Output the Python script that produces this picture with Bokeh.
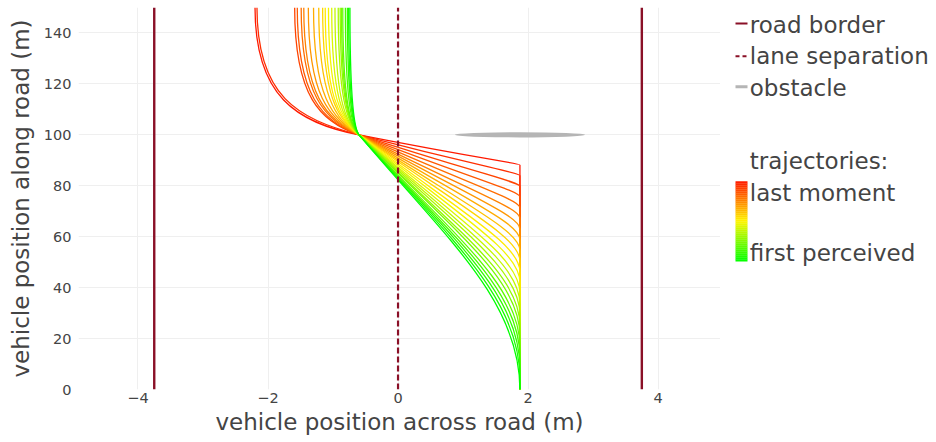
from bokeh.plotting import figure
from bokeh.models import Range1d, FixedTicker, ColumnDataSource, CustomJSTickFormatter
from bokeh.layouts import row
from bokeh.embed import file_html
from bokeh.resources import INLINE
from bokeh.core.properties import value

# ---------------- data ----------------
lane_center = 1.875          # vehicle starts in the centre of the right lane
road_borders = [-3.75, 3.75]
lane_separation = [0.0]
cross_x = -0.6               # common point every trajectory passes
cross_y = 100.0
top_y = 150.0

obstacle_x = [1.875]
obstacle_y = [100.0]
obstacle_w = [2.0]
obstacle_h = [2.0]

# trajectories, ordered from "first perceived" (green) to "last moment" (red)
depart_y = [0.0, 4.2, 8.4, 12.6, 16.8, 21.0, 25.2, 29.4, 33.6, 37.8, 42.0,
            46.2, 50.4, 54.6, 58.8, 63.0, 67.2, 71.4, 75.6, 79.8, 84.0, 88.2]
end_x = [-0.74, -0.76, -0.78, -0.81, -0.85, -0.87, -0.89, -0.92, -0.97, -1.02, -1.07,
         -1.12, -1.16, -1.22, -1.30, -1.38, -1.45, -1.49, -1.55, -1.59, -2.17, -2.20]
cross_slope = [0.033, 0.034, 0.035, 0.036, 0.037, 0.039, 0.040, 0.042, 0.044, 0.046, 0.049,
               0.052, 0.056, 0.060, 0.065, 0.071, 0.078, 0.088, 0.102, 0.121, 0.150, 0.199]

x_ticks = [-4, -2, 0, 2, 4]
y_ticks = [0, 20, 40, 60, 80, 100, 120, 140]

legend_items = ["road border", "lane separation", "obstacle"]
traj_title = "trajectories:"
traj_top_label = "last moment"
traj_bottom_label = "first perceived"

# ---------------- styles ----------------
FONT = "DejaVu Sans"
TXT = "#444444"
BORDER_COL = "#8a1027"
OBST_COL = "#b5b5b5"
GRID_COL = "#efefef"


def color_at(f):
    """green (f=0) -> yellow (0.5) -> red (1)"""
    stops = [(0.0, (0, 255, 0)), (0.5, (255, 245, 0)), (1.0, (255, 25, 0))]
    for (f0, c0), (f1, c1) in zip(stops[:-1], stops[1:]):
        if f <= f1:
            t = (f - f0) / (f1 - f0)
            c = [int(round(a + (b - a) * t)) for a, b in zip(c0, c1)]
            return "#%02x%02x%02x" % tuple(c)
    return "#%02x%02x%02x" % stops[-1][1]


n = len(depart_y)
rows = dict(x0=[], y0=[], x1=[], y1=[], cx0=[], cy0=[], cx1=[], cy1=[], color=[])


def add(x0, y0, cx0, cy0, cx1, cy1, x1, y1, col):
    rows["x0"].append(x0); rows["y0"].append(y0)
    rows["cx0"].append(cx0); rows["cy0"].append(cy0)
    rows["cx1"].append(cx1); rows["cy1"].append(cy1)
    rows["x1"].append(x1); rows["y1"].append(y1)
    rows["color"].append(col)


# red drawn first, green last (green on top)
for i in reversed(range(n)):
    f = i / (n - 1)
    col = color_at(f)
    y0 = depart_y[i]
    m = cross_slope[i]
    xf = end_x[i]
    a = 0.35 - 0.30 * f
    b = 0.40 + 0.40 * f
    span = cross_y - y0
    if y0 > 0:
        add(lane_center, 0.0, lane_center, y0 / 3, lane_center, 2 * y0 / 3, lane_center, y0, col)
    add(lane_center, y0, lane_center, y0 + a * span,
        cross_x + m * b * span, cross_y - b * span, cross_x, cross_y, col)
    d = cross_x - xf
    h2 = min(7.0, 0.6 * d / m)
    add(cross_x, cross_y, cross_x - m * h2, cross_y + h2, xf, cross_y + 15.0, xf, top_y, col)

src = ColumnDataSource(rows)

p = figure(frame_width=642, frame_height=382,
           x_range=Range1d(-4.915, 4.96), y_range=Range1d(0, 150),
           output_backend="svg", toolbar_location=None,
           min_border_left=78, min_border_right=0, min_border_top=7, min_border_bottom=40)
p.outline_line_color = None
p.background_fill_color = "white"
p.border_fill_color = "white"

p.bezier(x0="x0", y0="y0", x1="x1", y1="y1", cx0="cx0", cy0="cy0", cx1="cx1", cy1="cy1",
         line_color="color", line_width=1.3, source=src)

p.segment(x0=lane_separation, y0=[0.0], x1=lane_separation, y1=[top_y],
          line_color=BORDER_COL, line_width=2.2, line_dash="6 3")
p.segment(x0=road_borders, y0=[0.0, 0.0], x1=road_borders, y1=[top_y, top_y],
          line_color=BORDER_COL, line_width=2.4)
p.ellipse(x=obstacle_x, y=obstacle_y, width=obstacle_w, height=obstacle_h,
          fill_color=OBST_COL, line_color=None)

fmt = CustomJSTickFormatter(code="return tick < 0 ? '\u2212' + Math.abs(tick) : String(tick);")
for ax, ticks, lab in ((p.xaxis, x_ticks, "vehicle position across road (m)"),
                       (p.yaxis, y_ticks, "vehicle position along road (m)")):
    ax.ticker = FixedTicker(ticks=ticks)
    ax.formatter = fmt
    ax.axis_line_color = None
    ax.major_tick_line_color = None
    ax.minor_tick_line_color = None
    ax.major_tick_out = 0
    ax.major_tick_in = 0
    ax.minor_tick_out = 0
    ax.minor_tick_in = 0
    ax.major_label_text_font = FONT
    ax.major_label_text_font_size = "14.5px"
    ax.major_label_text_color = TXT
    ax.axis_label = lab
    ax.axis_label_text_font = FONT
    ax.axis_label_text_font_size = "23px"
    ax.axis_label_text_font_style = "normal"
    ax.axis_label_text_color = TXT
p.xaxis.major_label_standoff = 3
p.xaxis.axis_label_standoff = 3
p.yaxis.major_label_standoff = 7
p.yaxis.axis_label_standoff = 7

p.xgrid.ticker = FixedTicker(ticks=x_ticks)
p.ygrid.ticker = FixedTicker(ticks=y_ticks)
p.grid.grid_line_color = GRID_COL
p.grid.grid_line_width = 1

# ---------------- legend panel ----------------
lg = figure(frame_width=216, frame_height=442,
            x_range=Range1d(0, 216), y_range=Range1d(442, 0),
            output_backend="svg", toolbar_location=None, min_border=0)
lg.axis.visible = False
lg.grid.visible = False
lg.outline_line_color = None

lg.segment(x0=[15], y0=[16], x1=[27], y1=[16], line_color=BORDER_COL, line_width=2.2)
lg.segment(x0=[15], y0=[48.7], x1=[27], y1=[48.7], line_color=BORDER_COL, line_width=2.0,
           line_dash="4 3")
lg.segment(x0=[15], y0=[79.3], x1=[27], y1=[79.3], line_color=OBST_COL, line_width=3.0)

nb = 40
bar_top, bar_bot = 173.7, 253.7
step = (bar_bot - bar_top) / nb
lg.quad(left=[15] * nb, right=[27] * nb,
        top=[bar_top + k * step for k in range(nb)],
        bottom=[bar_top + (k + 1) * step + 0.3 for k in range(nb)],
        fill_color=[color_at(1 - (k + 0.5) / nb) for k in range(nb)], line_color=None)

lg.text(x=[29.3] * 6, y=[17.3, 48.5, 80.5, 153.3, 185.0, 245.0],
        text=legend_items + [traj_title, traj_top_label, traj_bottom_label],
        text_font=value(FONT), text_font_size="23px", text_color=TXT,
        text_baseline="alphabetic", text_align="left")

layout = row(p, lg)
open("out.html", "w").write(file_html(layout, INLINE))
